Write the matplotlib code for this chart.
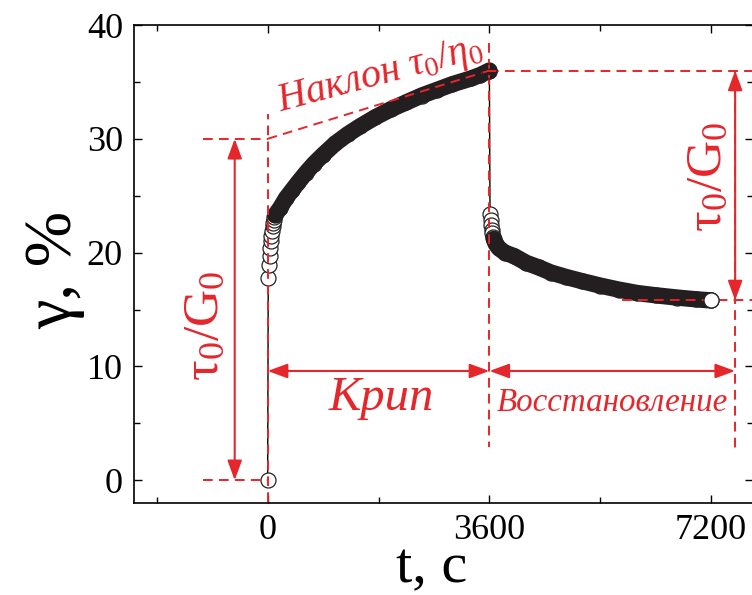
import matplotlib
matplotlib.use("Agg")
import matplotlib.pyplot as plt
from matplotlib.ticker import MultipleLocator

plt.rcParams['font.family'] = ['Liberation Serif', 'DejaVu Serif']
plt.rcParams['mathtext.fontset'] = 'custom'
plt.rcParams['mathtext.rm'] = 'Liberation Serif'
plt.rcParams['mathtext.it'] = 'Liberation Serif:italic'

# ---- data ----
creep_t = [0, 10, 20, 30, 40, 50, 60, 70, 80, 90, 100, 110, 120,
           200, 300, 400, 500, 620, 750, 900, 1100, 1300, 1500, 1750,
           2000, 2250, 2500, 2750, 3000, 3300, 3450, 3600]
creep_g = [0, 17.8, 18.9, 19.7, 20.4, 21.0, 21.5, 21.9, 22.3, 22.6, 22.9, 23.1, 23.3,
           23.9, 24.8, 25.5, 26.2, 27.0, 27.8, 28.6, 29.6, 30.4, 31.1, 31.9,
           32.6, 33.2, 33.8, 34.3, 34.8, 35.3, 35.6, 36.0]
rec_t = [3610, 3620, 3630, 3640, 3650, 3660, 3670, 3700, 3750, 3850, 4000, 4200,
         4400, 4600, 4850, 5100, 5400, 5700, 6000, 6300, 6650, 6950, 7200]
rec_g = [23.4, 22.9, 22.4, 22.0, 21.7, 21.4, 21.2, 20.8, 20.4, 20.0, 19.7, 19.1,
         18.7, 18.25, 17.85, 17.5, 17.1, 16.75, 16.45, 16.25, 16.05, 15.9, 15.8]

x_ticks = [0, 3600, 7200]
y_ticks = [0, 10, 20, 30, 40]

RED = '#e5262b'

fig = plt.figure(figsize=(7.52, 5.95), dpi=100)
ax = fig.add_axes([134/752, 1-503/595, (753-134)/752, (503-25)/595])

all_t = creep_t + rec_t
all_g = creep_g + rec_g

# thin connecting line
ax.plot(all_t, all_g, '-', color='black', lw=1.0, zorder=2)
# open circle markers
ax.plot(all_t, all_g, 'o', ms=10.8, mfc='white', mec='#222222', mew=0.9, ls='none', zorder=3)
# dense overlapping markers form a solid band
i0 = creep_t.index(120)
ax.plot(creep_t[i0:], creep_g[i0:], '-', color='#231f20', lw=11.8,
        solid_capstyle='round', solid_joinstyle='round', zorder=4)
j0 = rec_t.index(3670)
ax.plot(rec_t[j0:], rec_g[j0:], '-', color='#231f20', lw=11.8,
        solid_capstyle='round', solid_joinstyle='round', zorder=4)
# end points on top
ax.plot([creep_t[-1]], [creep_g[-1]], 'o', ms=10.8, mfc='none', mec='#222222', mew=0.9, zorder=7)
ax.plot([rec_t[-1]], [rec_g[-1]], 'o', ms=10.8, mfc='white', mec='#222222', mew=0.9, zorder=7)

# ---- red annotations ----
dk = dict(color=RED, lw=1.4, dashes=(5, 3.2), zorder=6)
g_end = creep_g[-1]
g_rec = rec_g[-1]
t_r = 7590
ax.plot([0, 0], [-1.9, 32.2], **dk)
ax.plot([-1050, 0], [30, 30], **dk)
ax.plot([-1050, 0], [0, 0], **dk)
ax.plot([0, 3600], [30, g_end], **dk)
ax.plot([3600, 3600], [38.4, 2.9], **dk)
ax.plot([3600, 7950], [g_end, g_end], **dk)
ax.plot([t_r, t_r], [g_end, 2.5], **dk)
ax.plot([5750, 7950], [g_rec, g_rec], color=RED, lw=1.4, dashes=(5, 3.2), zorder=6.5)

ap = dict(arrowstyle='<|-|>,head_length=0.6,head_width=0.22', color=RED, lw=1.5,
          mutation_scale=20, shrinkA=0, shrinkB=0)
ax.annotate('', xy=(-535, 30), xytext=(-535, 0), arrowprops=ap, zorder=6)
ax.annotate('', xy=(0, 9.6), xytext=(3600, 9.6), arrowprops=ap, zorder=6)
ax.annotate('', xy=(3600, 9.6), xytext=(t_r, 9.6), arrowprops=ap, zorder=6)
ax.annotate('', xy=(t_r, g_end), xytext=(t_r, g_rec), arrowprops=ap, zorder=6)

ax.text(-1010, 13.6, r'$\mathrm{\tau_0/G_0}$', color=RED, fontsize=37, rotation=90,
        ha='center', va='center', zorder=6)
ax.text(7160, 26.7, r'$\mathrm{\tau_0/G_0}$', color=RED, fontsize=37, rotation=90,
        ha='center', va='center', zorder=6)
ax.text(1850, 7.2, 'Крип', color=RED, fontsize=35, style='italic',
        ha='center', va='center', zorder=6)
ax.text(5600, 6.8, 'Восстановление', color=RED, fontsize=23.8, style='italic',
        ha='center', va='center', zorder=6)
ax.text(195, 32.4, r'Наклон $\tau_0/\eta_0$', color=RED, fontsize=29, style='italic',
        rotation=15, rotation_mode='anchor', ha='left', va='baseline', zorder=6)

# ---- axes ----
ax.set_xlim(-2170, 7880)
ax.set_ylim(-2, 40)
ax.set_xticks(x_ticks)
ax.set_yticks(y_ticks)
ax.xaxis.set_minor_locator(MultipleLocator(1800))
ax.yaxis.set_minor_locator(MultipleLocator(5))
ax.tick_params(which='both', direction='in', top=True, right=True, width=1.0,
               labelsize=26, pad=8)
ax.tick_params(which='major', length=6)
ax.tick_params(which='minor', length=4)
for s in ax.spines.values():
    s.set_linewidth(1.2)

ax.set_xlabel('t, c', fontsize=42)
ax.xaxis.set_label_coords(0.481, -0.165)
ax.xaxis.label.set_va('baseline')
ax.set_ylabel('γ, %', fontsize=48)
ax.yaxis.set_label_coords(-0.128, 0.487)
ax.yaxis.label.set_va('center')

fig.savefig('out.png', dpi=100)
